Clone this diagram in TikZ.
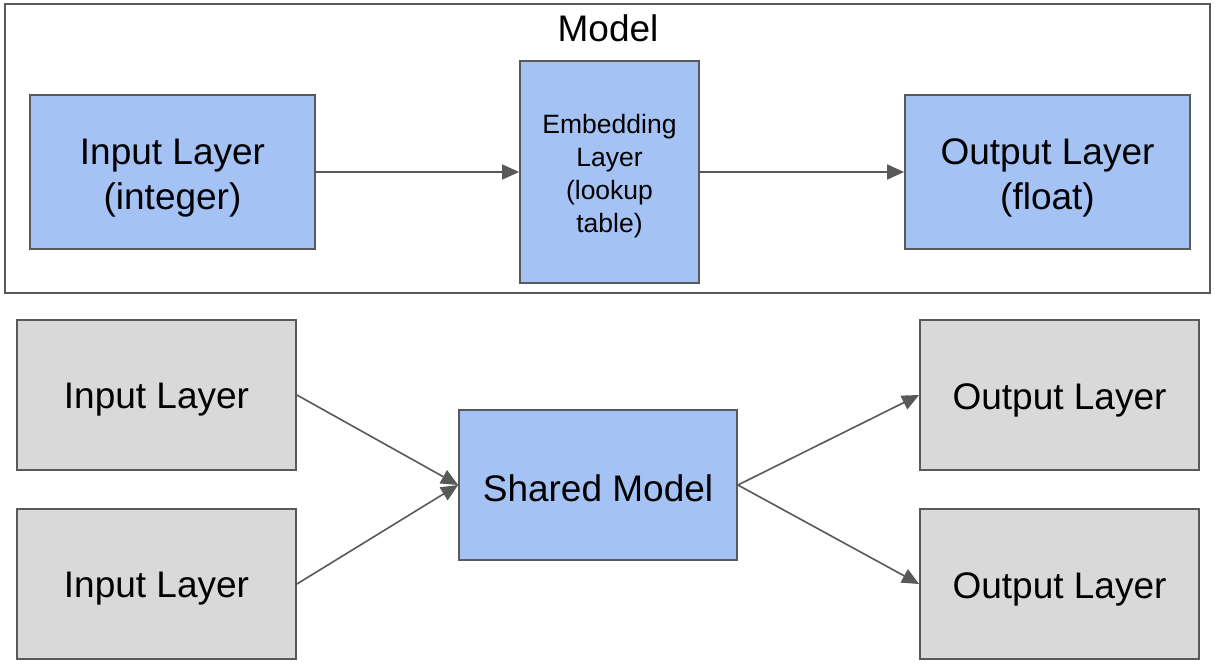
\documentclass[tikz,border=0pt]{standalone}
\usepackage{fontspec}
\setmainfont{Liberation Sans}
\usetikzlibrary{arrows.meta}
\definecolor{bluefill}{HTML}{A4C2F4}
\definecolor{grayfill}{HTML}{D9D9D9}
\definecolor{edge}{HTML}{595959}
\begin{document}
\begin{tikzpicture}[x=1pt,y=-1pt,
  box/.style={draw=edge,line width=1.8pt,rectangle,inner sep=0pt},
  bluebox/.style={box,fill=bluefill},
  graybox/.style={box,fill=grayfill},
  txt/.style={align=center,font=\fontsize{37}{45}\selectfont,inner sep=0pt},
  smalltxt/.style={align=center,font=\fontsize{26.5}{33}\selectfont,inner sep=0pt},
  conn/.style={draw=edge,line width=1.6pt,-{Triangle[length=17pt,width=15pt]}}]
\useasboundingbox (0,0) rectangle (1215,666);
\fill[white] (0,0) rectangle (1215,666);
% Model frame
\node[draw=edge,line width=1.8pt,rectangle,minimum width=1205pt,minimum height=289pt,inner sep=0pt] (frame) at (607.5,148.5) {};
\node[txt] (modellbl) at (608,28) {Model};
\node[bluebox,minimum width=285pt,minimum height=154pt,
  label={[txt,yshift=-6pt]center:{Input Layer\\(integer)}}] (inint) at (172.5,172) {};
\node[bluebox,minimum width=179pt,minimum height=222pt,
  label={[smalltxt,yshift=-4pt]center:{Embedding\\Layer\\(lookup\\table)}}] (emb) at (609.5,172) {};
\node[bluebox,minimum width=285pt,minimum height=154pt,
  label={[txt,yshift=-6pt]center:{Output Layer\\(float)}}] (outfl) at (1047.5,172) {};
\draw[conn] (inint.east) -- (emb.west);
\draw[conn] (emb.east) -- (outfl.west);
% bottom
\node[graybox,minimum width=279pt,minimum height=150pt,
  label={[txt,yshift=-5pt]center:Input Layer}] (in1) at (156.5,395) {};
\node[graybox,minimum width=279pt,minimum height=150pt,
  label={[txt,yshift=-5pt]center:Input Layer}] (in2) at (156.5,584) {};
\node[bluebox,minimum width=278pt,minimum height=150pt,
  label={[txt,yshift=-3pt]center:Shared Model}] (sh) at (598,485) {};
\node[graybox,minimum width=279pt,minimum height=150pt,
  label={[txt,yshift=-5pt]center:Output Layer}] (out1) at (1059.5,395) {};
\node[graybox,minimum width=279pt,minimum height=150pt,
  label={[txt,yshift=-5pt]center:Output Layer}] (out2) at (1059.5,584) {};
\draw[conn] (in1.east) -- (sh.west);
\draw[conn] (in2.east) -- (sh.west);
\draw[conn] (sh.east) -- (out1.west);
\draw[conn] (sh.east) -- (out2.west);
\end{tikzpicture}
\end{document}
